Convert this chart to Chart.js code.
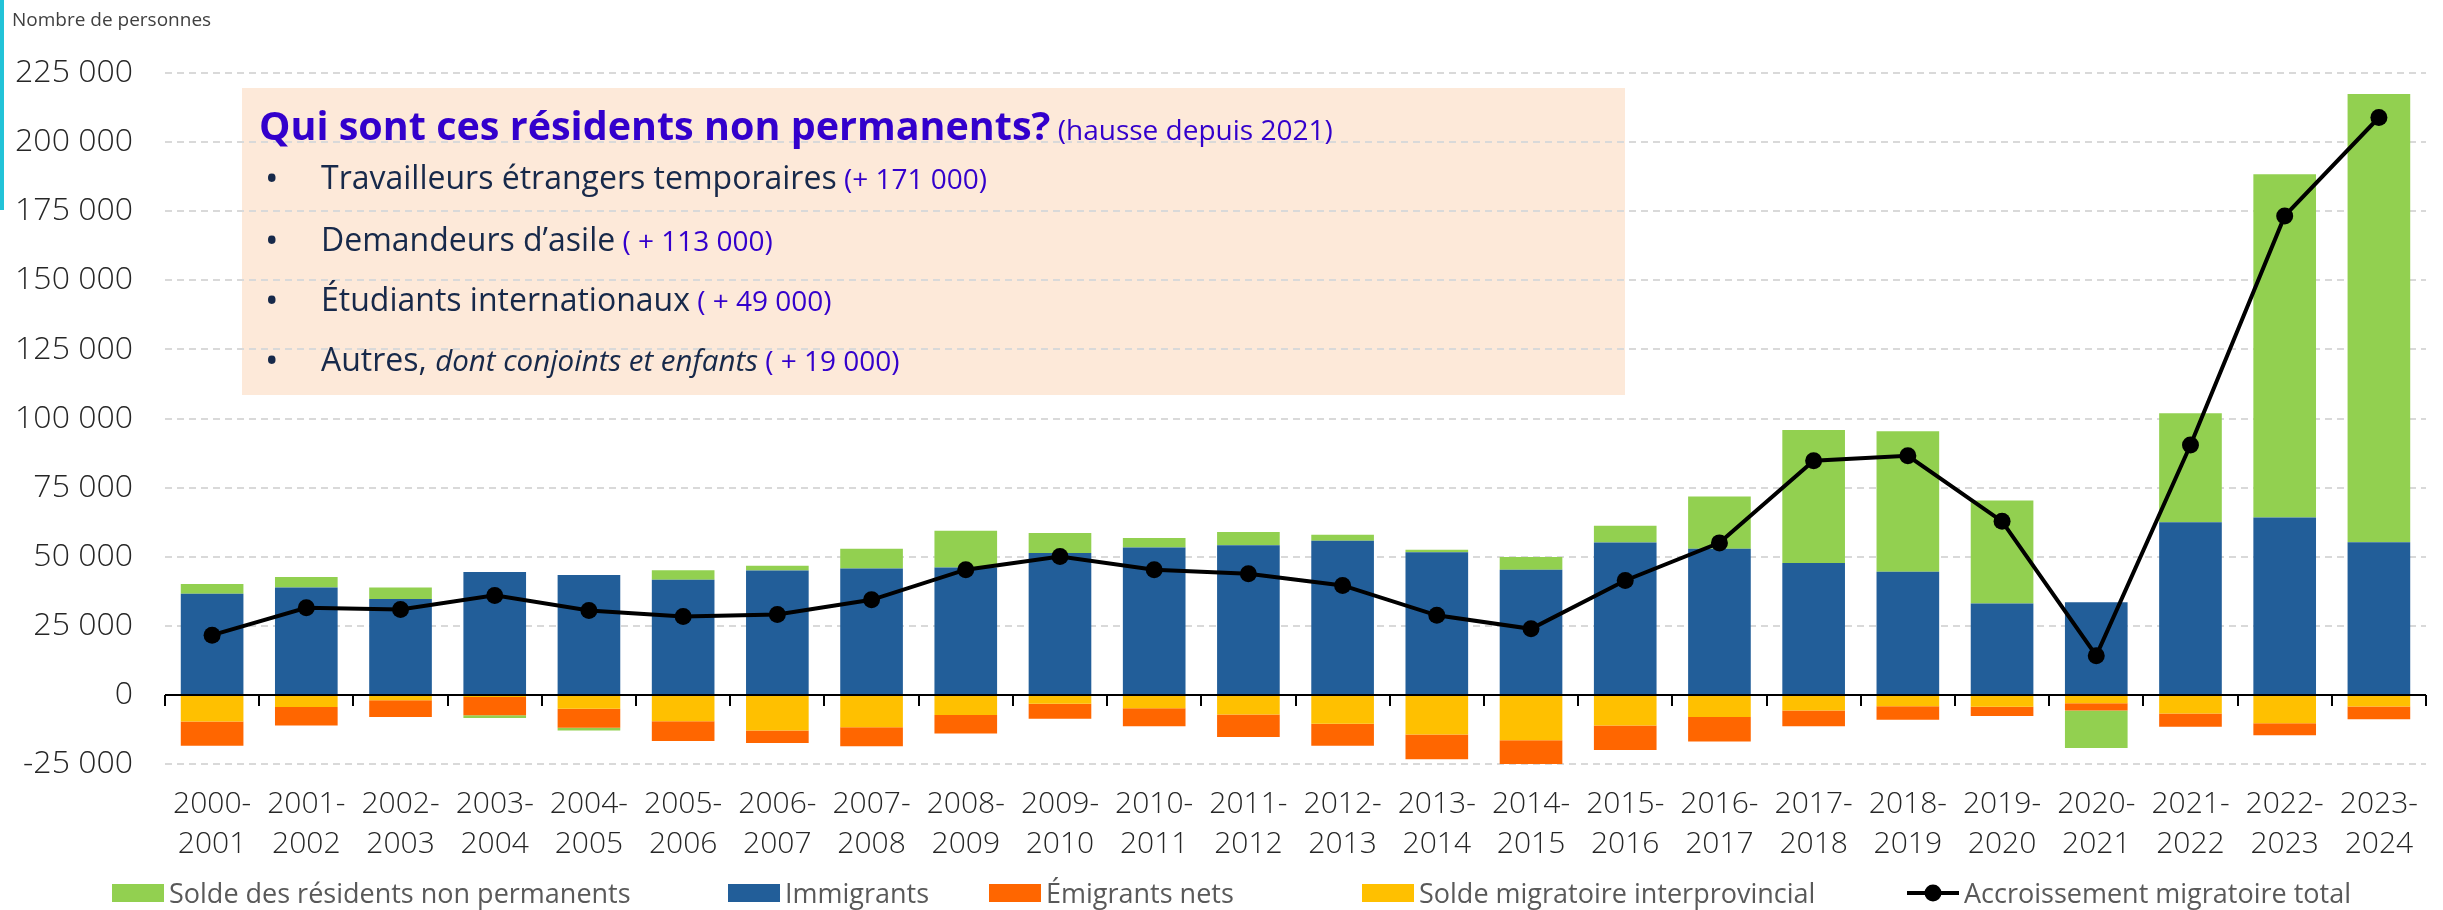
<!DOCTYPE html>
<html><head><meta charset="utf-8">
<script src="https://cdn.jsdelivr.net/npm/chart.js@4.4.1/dist/chart.umd.min.js"></script>
<style>
html,body{margin:0;padding:0;background:#fff;}
#wrap{position:relative;width:2443px;height:910px;overflow:hidden;font-family:"Open Sans",sans-serif;}
#box{position:absolute;left:242px;top:88px;width:1383px;height:307px;background:#FDE9D9;z-index:0;}
#c{position:absolute;left:0;top:0;z-index:1;}
#cyan{position:absolute;left:0;top:0;width:4px;height:210px;background:#22C3D8;z-index:3;}
#ytitle{position:absolute;left:12px;top:6px;font-size:19px;line-height:26px;color:#404040;z-index:3;}
.nl{position:absolute;left:259px;white-space:nowrap;line-height:1.362;z-index:3;color:#17294A;}
.t{font-weight:700;color:#3300CC;font-size:39.5px;}
.s{color:#3300CC;font-size:28px;font-weight:400;}
.s2{color:#3300CC;font-size:28px;font-weight:400;}
.b{font-size:32px;}
.dot{position:absolute;left:6px;top:-2px;font-size:36px;line-height:1.362;}
.txt{position:absolute;left:62px;}
#legend{position:absolute;left:0;top:878px;width:2443px;height:30px;z-index:3;}
.li{position:absolute;top:0;height:30px;white-space:nowrap;}
.lb{position:absolute;left:0;top:6px;width:52px;height:18px;}
.lt{position:absolute;left:57px;top:-3px;font-size:27px;line-height:36px;color:#595959;}
</style></head>
<body><div id="wrap">
<div id="box"></div>
<canvas id="c" width="2443" height="910"></canvas>
<div id="cyan"></div>
<div id="ytitle">Nombre de personnes</div>
<div class="nl" style="top:99px;font-size:39.5px;"><span class="t">Qui sont ces résidents non permanents?</span><span class="s2"> (hausse depuis 2021)</span></div>
<div class="nl b" style="top:155px;"><span class="dot">•</span><span class="txt">Travailleurs étrangers temporaires<span class="s"> (+ 171 000)</span></span></div>
<div class="nl b" style="top:217px;"><span class="dot">•</span><span class="txt">Demandeurs d’asile<span class="s"> ( + 113 000)</span></span></div>
<div class="nl b" style="top:277px;"><span class="dot">•</span><span class="txt">Étudiants internationaux<span class="s"> ( + 49 000)</span></span></div>
<div class="nl b" style="top:337px;"><span class="dot">•</span><span class="txt">Autres, <i style="font-size:29.5px">dont conjoints et enfants</i><span class="s"> ( + 19 000)</span></span></div>
<div id="legend"></div>
</div>
<script>
// ---- Data ----
const categories = ["2000-2001","2001-2002","2002-2003","2003-2004","2004-2005","2005-2006","2006-2007","2007-2008","2008-2009","2009-2010","2010-2011","2011-2012","2012-2013","2013-2014","2014-2015","2015-2016","2016-2017","2017-2018","2018-2019","2019-2020","2020-2021","2021-2022","2022-2023","2023-2024"];
const residentsNonPermanents = [3500, 3800, 4200, -1000, -1000, 3400, 1700, 7200, 13300, 7300, 3500, 4800, 2100, 900, 4600, 6100, 18900, 48100, 50800, 37200, -13600, 39400, 124200, 162200];
const immigrants = [36600, 38900, 34700, 44500, 43400, 41700, 45000, 45700, 46100, 51300, 53300, 54100, 55800, 51600, 45300, 55100, 52900, 47700, 44600, 33100, 33500, 62500, 64200, 55200];
const emigrantsNets = [-8800, -6700, -6100, -6600, -6900, -7200, -4500, -6900, -6700, -5400, -6500, -8100, -8000, -9000, -9400, -8800, -8900, -5700, -4900, -3300, -2600, -4800, -4300, -4600];
const soldeInterprovincial = [-9600, -4400, -1900, -800, -5000, -9500, -12900, -11700, -7300, -3200, -4800, -7100, -10400, -14300, -16400, -11100, -8000, -5600, -4100, -4300, -3000, -6700, -10300, -4200];
const accroissementTotal = [21600, 31500, 30900, 36000, 30500, 28400, 29100, 34400, 45300, 50100, 45300, 43800, 39600, 28800, 23900, 41400, 55000, 84700, 86500, 62800, 14200, 90400, 173300, 208900];
const yTicks = {min: -25000, max: 225000, step: 25000};

const COLORS = {green:'#92D050', blue:'#225E99', orange:'#FF6600', yellow:'#FFC000', line:'#000000'};

function fmt(v){
  const s = Math.abs(v).toString().replace(/\B(?=(\d{3})+(?!\d))/g,' ');
  return (v < 0 ? '-' : '') + s;
}

const zeroAxis = {
  id: 'zeroAxis',
  beforeDatasetDraw(chart, args){
    if (args.meta.type !== 'line') return;
    const {ctx, chartArea} = chart;
    const x = chart.scales.x, y = chart.scales.y;
    const y0 = Math.round(y.getPixelForValue(0));
    const half = (x.getPixelForValue(1) - x.getPixelForValue(0)) / 2;
    ctx.save();
    ctx.strokeStyle = '#000';
    ctx.lineWidth = 2;
    ctx.beginPath();
    ctx.moveTo(chartArea.left, y0);
    ctx.lineTo(chartArea.right, y0);
    for (let i = 0; i <= categories.length; i++) {
      const px = Math.round(x.getPixelForValue(i) - half);
      ctx.moveTo(px, y0);
      ctx.lineTo(px, y0 + 11);
    }
    ctx.stroke();
    ctx.restore();
  }
};

const barCommon = {type:'bar', barPercentage:0.665, categoryPercentage:1, borderWidth:0};

const chart = new Chart(document.getElementById('c'), {
  data: {
    labels: categories.map(c => [c.slice(0,5), c.slice(5)]),
    datasets: [
      {...barCommon, label:'Immigrants', data:immigrants, backgroundColor:COLORS.blue, order:1},
      {...barCommon, label:'Solde migratoire interprovincial', data:soldeInterprovincial, backgroundColor:COLORS.yellow, order:2},
      {...barCommon, label:'Émigrants nets', data:emigrantsNets, backgroundColor:COLORS.orange, order:3},
      {...barCommon, label:'Solde des résidents non permanents', data:residentsNonPermanents, backgroundColor:COLORS.green, order:4},
      {type:'line', label:'Accroissement migratoire total', data:accroissementTotal, borderColor:COLORS.line, backgroundColor:COLORS.line,
       borderWidth:4, pointRadius:8.5, pointBorderWidth:0, pointBackgroundColor:COLORS.line, tension:0, order:0}
    ]
  },
  options: {
    responsive:false, animation:false, devicePixelRatio:1,
    layout:{padding:{left:0, right:17, top:73, bottom:44}},
    plugins:{legend:{display:false}, tooltip:{enabled:false}},
    scales:{
      x:{stacked:true, offset:true,
         grid:{display:false, drawTicks:false}, border:{display:false},
         ticks:{padding:20, color:'#262626', autoSkip:false, maxRotation:0, font:{family:'Open Sans', size:30, weight:300, lineHeight:1.333}},
         afterFit(s){ s.height = 102; }},
      y:{stacked:true, min:yTicks.min, max:yTicks.max,
         ticks:{stepSize:yTicks.step, padding:32, color:'#262626', font:{family:'Open Sans', size:32, weight:300}, callback:v => fmt(v)},
         grid:{color:'#d9d9d9', lineWidth:2, drawTicks:false},
         border:{display:false, dash:[7,5]},
         afterFit(s){ s.width = 165; }}
    }
  },
  plugins:[zeroAxis]
});

// ---- HTML legend built from the chart's datasets ----
const legendOrder = ['Solde des résidents non permanents','Immigrants','Émigrants nets','Solde migratoire interprovincial','Accroissement migratoire total'];
const legendLeft = [112, 728, 989, 1362, 1907];
const leg = document.getElementById('legend');
legendOrder.forEach((name, i) => {
  const ds = chart.data.datasets.find(d => d.label === name);
  const item = document.createElement('div');
  item.className = 'li';
  item.style.left = legendLeft[i] + 'px';
  let sym;
  if (ds.type === 'line') {
    sym = '<svg class="lb" style="top:0;height:30px" width="52" height="30"><line x1="0" y1="15" x2="52" y2="15" stroke="'+ds.borderColor+'" stroke-width="4"/><circle cx="26" cy="15" r="8.5" fill="'+ds.borderColor+'"/></svg>';
  } else {
    sym = '<div class="lb" style="background:'+ds.backgroundColor+'"></div>';
  }
  item.innerHTML = sym + '<span class="lt">' + ds.label + '</span>';
  leg.appendChild(item);
});
</script>
</body></html>
